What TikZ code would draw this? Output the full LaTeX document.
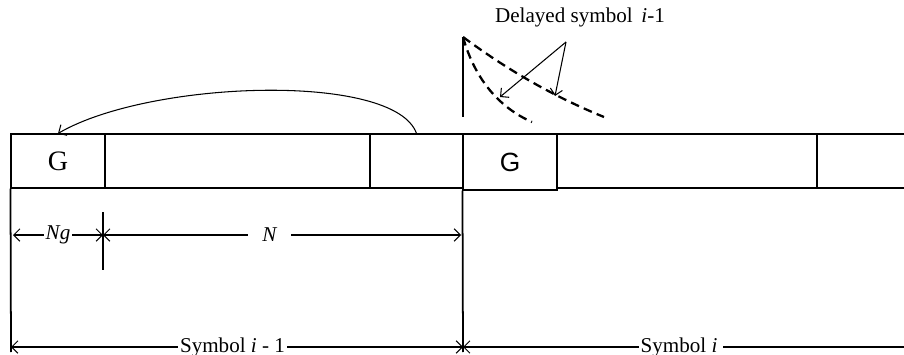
\documentclass[tikz,border=0pt]{standalone}
\usepackage{fontspec}
\setmainfont{Liberation Serif}
\newfontfamily\arialfont{Liberation Sans}
\usetikzlibrary{arrows.meta}

\begin{document}
\begin{tikzpicture}[
    x=0.02cm, y=-0.02cm,
    every node/.style={font=\fontsize{12}{14}\selectfont},
    cell/.style={
      rectangle, draw, inner sep=0pt,
      minimum height=1.08cm, line width=0.6pt
    },
    edge/.style={line width=0.6pt},
    dim/.style={line width=0.6pt,
      {Straight Barb[length=3.5pt,width=7pt]}-{Straight Barb[length=3.5pt,width=7pt]}},
    lab/.style={fill=white, inner sep=1pt},
    decay/.style={line width=1.3pt, dash pattern=on 5pt off 3pt},
    tip/.style={edge, -{Straight Barb[length=3.5pt,width=7pt]}}
  ]
    \useasboundingbox (0,0) rectangle (904,355);

    % symbol i-1 and symbol i
    \node[cell, minimum width=1.88cm, font=\fontsize{16}{18}\selectfont] (g1) at (58,161) {G};
    \node[cell, minimum width=5.30cm] (d1) at (237.5,161) {};
    \node[cell, minimum width=1.86cm] (c1) at (416.5,161) {};
    \node[cell, minimum width=1.88cm, minimum height=1.12cm,
          font=\arialfont\fontsize{15}{17}\selectfont] (g2) at (510,162) {G};
    \node[cell, minimum width=5.20cm] (d2) at (687,161) {};
    \node[cell, minimum width=1.90cm] (c2) at (864,161) {};

    % cyclic prefix copy
    \draw[tip] (c1.north) .. controls (395,72) and (150,80) .. (g1.north);

    % borders
    \coordinate (a1) at (11,352);
    \coordinate (b1) at (463,352);
    \coordinate (t0) at (103,212);
    \coordinate (t1) at (103,270);
    \draw[line width=1pt] (g1.south west) -- (a1);
    \draw[line width=1pt] (g2.south west) -- (b1);
    \draw[line width=1.4pt] (t0) -- (t1);

    % lengths
    \coordinate (ng0) at (13,235);
    \coordinate (ng1) at (103,235);
    \coordinate (n1) at (461,235);
    \draw[dim] (ng0) -- node[lab] {\textit{Ng}} (ng1);
    \draw[dim] (ng1) -- node[lab, inner xsep=8pt, pos=0.466] {\textit{N}} (n1);

    \coordinate (s0) at (11,347);
    \coordinate (s1) at (463,347);
    \coordinate (s2) at (912,347);
    \draw[dim] (s0) -- node[lab, pos=0.49] {Symbol \textit{i} - 1} (s1);
    \draw[dim] (s1) -- node[lab, pos=0.485] {Symbol \textit{i}\,} (s2);

    % delayed path
    \coordinate (p0) at (463,37);
    \coordinate (p1) at (463,117);
    \coordinate (e1) at (532,122);
    \coordinate (e2) at (604,117);
    \draw[edge] (p0) -- (p1);
    \draw[decay] (p0) .. controls (475,80) and (500,108) .. (e1);
    \draw[decay] (p0) .. controls (505,68) and (550,95) .. (e2);

    \node (dl) at (580,17) {Delayed symbol \,\textit{i}-1};
    \coordinate (q0) at (566,42);
    \coordinate (q1) at (500,97);
    \coordinate (q2) at (555,96);
    \draw[tip] (q0) -- (q1);
    \draw[tip] (q0) -- (q2);
  \end{tikzpicture}
\end{document}
